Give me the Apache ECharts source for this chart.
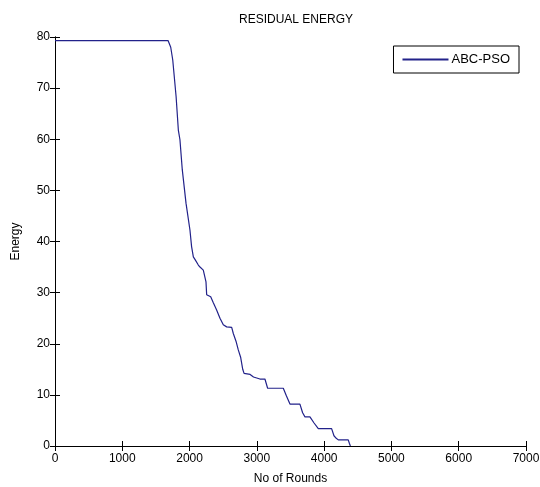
<!DOCTYPE html>
<html>
<head>
<meta charset="utf-8">
<script src="https://cdn.jsdelivr.net/npm/echarts@6/dist/echarts.min.js"></script>
<style>html,body{margin:0;padding:0;background:#fff;}#c{width:540px;height:487px;}</style>
</head>
<body>
<div id="c"></div>
<script>
const rounds = [0, 1680, 1700, 1720, 1750, 1800, 1833, 1857, 1892, 1947, 2006, 2030, 2056, 2080, 2130, 2155, 2204, 2244, 2254, 2314, 2353, 2402, 2452, 2501, 2551, 2626, 2650, 2690, 2724, 2760, 2790, 2810, 2900, 2950, 3046, 3120, 3160, 3235, 3393, 3440, 3492, 3640, 3680, 3715, 3789, 3850, 3913, 4111, 4146, 4180, 4210, 4358, 4376, 4390];
const energy = [79.3, 79.3, 79.0, 78.0, 75.5, 68.3, 61.8, 59.9, 54.0, 47.5, 42.2, 39.0, 37.0, 36.5, 35.4, 35.0, 34.4, 32.1, 29.6, 29.2, 28.0, 26.6, 25.0, 23.7, 23.3, 23.2, 22.0, 20.5, 18.8, 17.3, 15.0, 14.2, 14.0, 13.5, 13.1, 13.1, 11.3, 11.3, 11.3, 9.8, 8.2, 8.2, 6.5, 5.7, 5.7, 4.5, 3.4, 3.4, 2.0, 1.5, 1.2, 1.2, 0.5, 0.0];
const xTicks = [0, 1000, 2000, 3000, 4000, 5000, 6000, 7000];
const yTicks = [0, 10, 20, 30, 40, 50, 60, 70, 80];
const seriesName = 'ABC-PSO';

const data = rounds.map((r, i) => [r, energy[i]]);
const font = 'Liberation Sans, Arial, sans-serif';
const axisCommon = {
  axisLine: {show: true, lineStyle: {color: '#000', width: 1}},
  axisTick: {show: true, inside: true, length: 5, lineStyle: {color: '#000'}},
  splitLine: {show: false}
};
const chart = echarts.init(document.getElementById('c'));
chart.setOption({
  animation: false,
  backgroundColor: '#fff',
  title: {text: 'RESIDUAL ENERGY', left: 291, top: 9, textAlign: 'center',
    textStyle: {fontFamily: font, fontSize: 12, fontWeight: 'normal', color: '#000'}},
  grid: {left: 55, right: 14, top: 37, bottom: 41, containLabel: false, outerBoundsMode: 'none'},
  legend: {
    data: [seriesName], right: 21, top: 46, orient: 'vertical',
    itemWidth: 46, itemHeight: 2, itemGap: 0, padding: [7, 9, 7, 9],
    borderColor: '#000', borderWidth: 1, backgroundColor: '#fff',
    icon: 'rect',
    textStyle: {fontFamily: font, fontSize: 13, color: '#000', padding: [0, 0, 0, -2]}
  },
  xAxis: [
    Object.assign({type: 'value', min: 0, max: 7000, interval: 1000, position: 'bottom',
      name: 'No of Rounds', nameLocation: 'middle', nameGap: 27,
      nameTextStyle: {fontFamily: font, fontSize: 12, color: '#000'},
      axisLabel: {fontFamily: font, fontSize: 12, color: '#000', margin: 7,
        formatter: v => xTicks.includes(v) ? String(v) : ''}}, axisCommon),
    Object.assign({type: 'value', min: 0, max: 7000, interval: 1000, position: 'top',
      axisLabel: {show: false}}, axisCommon)
  ],
  yAxis: [
    Object.assign({type: 'value', min: 0, max: 80, interval: 10, position: 'left',
      name: 'Energy', nameLocation: 'middle', nameGap: 33, nameRotate: 90,
      nameTextStyle: {fontFamily: font, fontSize: 12, color: '#000'},
      axisLabel: {fontFamily: font, fontSize: 12, color: '#000', margin: 5,
        formatter: v => yTicks.includes(v) ? String(v) : ''}}, axisCommon),
    Object.assign({type: 'value', min: 0, max: 80, interval: 10, position: 'right',
      axisLabel: {show: false}}, axisCommon)
  ],
  series: [{
    name: seriesName, type: 'line', data: data, showSymbol: false, symbol: 'none',
    lineStyle: {color: '#22228a', width: 1.2}, itemStyle: {color: '#22228a'}
  }]
});
</script>
</body>
</html>
